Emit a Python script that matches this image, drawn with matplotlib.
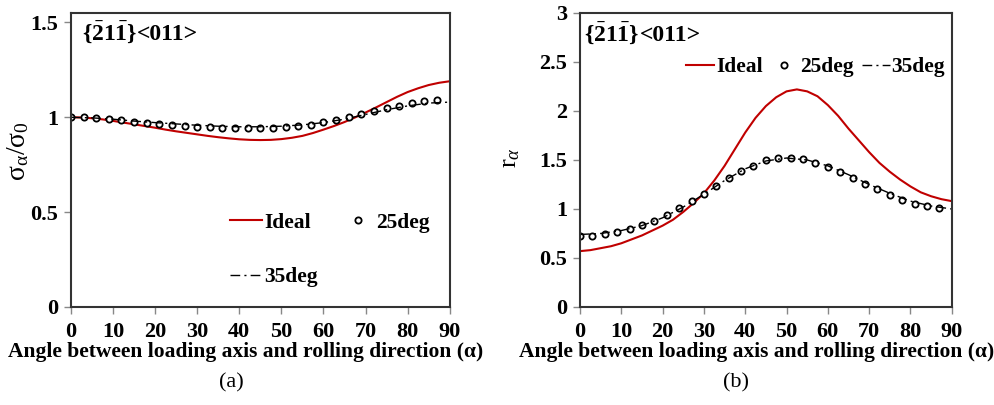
"""
Normalized yield stress and r-value versus loading angle for {-2 1 -1}<011>.
"""

import matplotlib

matplotlib.use("Agg")

import matplotlib.pyplot as plt


plt.rcParams["font.family"] = ["Liberation Serif", "DejaVu Serif"]
plt.rcParams["mathtext.fontset"] = "custom"
plt.rcParams["mathtext.rm"] = "Liberation Serif"
plt.rcParams["mathtext.it"] = "Liberation Serif:italic"
plt.rcParams["mathtext.bf"] = "Liberation Serif:bold"


# angles
ANGLE_FINE = [0, 2.5, 5, 7.5, 10, 12.5, 15, 17.5, 20, 22.5, 25, 27.5, 30, 32.5, 35, 37.5,
              40, 42.5, 45, 47.5, 50, 52.5, 55, 57.5, 60, 62.5, 65, 67.5, 70, 72.5, 75,
              77.5, 80, 82.5, 85, 87.5, 90]
ANGLE_LINE = [0, 5, 10, 15, 20, 25, 30, 35, 40, 45, 50, 55, 60, 65, 70, 75, 80, 85, 90]
ANGLE_25 = list(range(0, 90, 3))

# (a) normalized yield stress
STRESS_IDEAL = [1.0, 0.999, 0.995, 0.989, 0.981, 0.972, 0.963, 0.954, 0.945, 0.935, 0.926,
                0.918, 0.91, 0.902, 0.895, 0.889, 0.884, 0.881, 0.88, 0.881, 0.885, 0.892,
                0.902, 0.917, 0.935, 0.954, 0.975, 0.999, 1.025, 1.052, 1.08, 1.108,
                1.133, 1.153, 1.17, 1.182, 1.19]
STRESS_25 = [1.0, 1.0, 0.995, 0.99, 0.985, 0.977, 0.97, 0.965, 0.96, 0.955, 0.95, 0.948,
             0.946, 0.945, 0.945, 0.945, 0.946, 0.948, 0.952, 0.962, 0.975, 0.988, 1.0,
             1.018, 1.035, 1.05, 1.06, 1.075, 1.088, 1.092]
STRESS_35 = [1.0, 0.997, 0.99, 0.98, 0.972, 0.965, 0.958, 0.953, 0.95, 0.95, 0.953,
             0.96, 0.972, 0.99, 1.015, 1.04, 1.06, 1.075, 1.08]

# (b) r-value
R_IDEAL = [0.57, 0.58, 0.6, 0.62, 0.65, 0.69, 0.73, 0.78, 0.83, 0.89, 0.97, 1.06, 1.16,
           1.29, 1.44, 1.61, 1.78, 1.93, 2.05, 2.14, 2.2, 2.22, 2.2, 2.15, 2.06, 1.95,
           1.82, 1.7, 1.58, 1.47, 1.38, 1.3, 1.23, 1.17, 1.13, 1.1, 1.08]
R_25 = [0.72, 0.72, 0.744, 0.77, 0.795, 0.84, 0.88, 0.94, 1.01, 1.078, 1.153, 1.23,
        1.32, 1.385, 1.44, 1.5, 1.52, 1.52, 1.505, 1.47, 1.43, 1.375, 1.32, 1.255,
        1.2, 1.146, 1.095, 1.054, 1.027, 1.01]
R_35 = [0.74, 0.75, 0.78, 0.83, 0.91, 1.02, 1.15, 1.29, 1.41, 1.49, 1.52, 1.5, 1.44,
        1.35, 1.25, 1.16, 1.08, 1.03, 1.0]

X_TICKS = [0, 10, 20, 30, 40, 50, 60, 70, 80, 90]
PLANE = r"$\mathbf{\{\bar{2}1\bar{1}\}}$"
DIRECTION = "<011>"
X_LABEL = "Angle between loading axis and rolling direction (α)"

RED = "#c00000"
FRAME = "#333333"
LEGEND_FONT = {"size": 15.5, "weight": "bold"}


def draw_panel(ax, ideal, s25, s35, ylim, yticks):
    """
    Draw the three series and style one panel.
    """

    ax.plot(ANGLE_FINE, ideal, color=RED, lw=1.5, label="Ideal")
    ax.plot(ANGLE_25, s25, ls="none", marker="o", ms=4.5, mfc="white",
            mec="black", mew=1.3, label="25deg")
    ax.plot(ANGLE_LINE, s35, color="black", lw=1.0, dashes=(7, 3, 1.5, 3),
            label="35deg")

    ax.set_xlim(0, 90)
    ax.set_ylim(*ylim)
    ax.set_xticks(X_TICKS)
    ax.set_yticks(yticks)
    ax.set_yticklabels([f"{t:g}" for t in yticks])

    for spine in ax.spines.values():
        spine.set_color(FRAME)
        spine.set_linewidth(1.5)

    ax.tick_params(direction="out", length=5, width=1, color="#888888",
                   labelsize=16, pad=4)
    ax.tick_params(axis="x", pad=6)
    for lbl in ax.get_xticklabels() + ax.get_yticklabels():
        lbl.set_fontweight("bold")

    ax.set_xlabel(X_LABEL, fontsize=15.5, fontweight="bold")


def add_texture(fig, ax, x, y):
    """
    Write the {-2 1 -1}<011> label, math part first, plain part right after it.
    """

    plane = ax.text(x, y, PLANE, transform=ax.transAxes, fontsize=17,
                    ha="left", va="baseline")
    fig.canvas.draw()
    right = plane.get_window_extent().x1
    x_next = ax.transAxes.inverted().transform((right, 0))[0]
    ax.text(x_next, y, DIRECTION, transform=ax.transAxes, fontsize=17,
            fontweight="bold", ha="left", va="baseline")


fig = plt.figure(figsize=(9.94, 4.05), dpi=100)

ax_a = fig.add_axes([0.0714, 0.242, 0.381, 0.726])
draw_panel(ax_a, STRESS_IDEAL, STRESS_25, STRESS_35, (0, 1.55), [0, 0.5, 1, 1.5])
ax_a.set_ylabel(r"$\mathrm{\sigma_\alpha/\sigma_0}$", fontsize=20)
ax_a.yaxis.set_label_coords(-0.105, 0.53)
ax_a.xaxis.set_label_coords(0.462, -0.12)
handles, labels = ax_a.get_legend_handles_labels()
ax_a.legend([handles[0], handles[2], handles[1]], [labels[0], labels[2], labels[1]],
            ncol=2, loc="upper left", bbox_to_anchor=(0.42, 0.32), frameon=False,
            borderpad=0, borderaxespad=0, handlelength=1.5, handletextpad=0.1,
            columnspacing=1.1, labelspacing=1.6, prop=LEGEND_FONT)

ax_b = fig.add_axes([0.5835, 0.242, 0.374, 0.726])
draw_panel(ax_b, R_IDEAL, R_25, R_35, (0, 3), [0, 0.5, 1, 1.5, 2, 2.5, 3])
ax_b.set_ylabel(r"$\mathrm{r}_\alpha$", fontsize=19)
ax_b.yaxis.set_label_coords(-0.155, 0.51)
ax_b.xaxis.set_label_coords(0.476, -0.12)
ax_b.legend(ncol=3, loc="upper left", bbox_to_anchor=(0.285, 0.85), frameon=False,
            borderpad=0, borderaxespad=0, handlelength=1.3, handletextpad=0.1,
            columnspacing=0.35, prop=LEGEND_FONT)

fig.text(0.233, 0.055, "(a)", fontsize=16, ha="center", va="center")
fig.text(0.74, 0.055, "(b)", fontsize=16, ha="center", va="center")

add_texture(fig, ax_a, 0.029, 0.908)
add_texture(fig, ax_b, 0.012, 0.905)

fig.savefig("out.png", dpi=100)
